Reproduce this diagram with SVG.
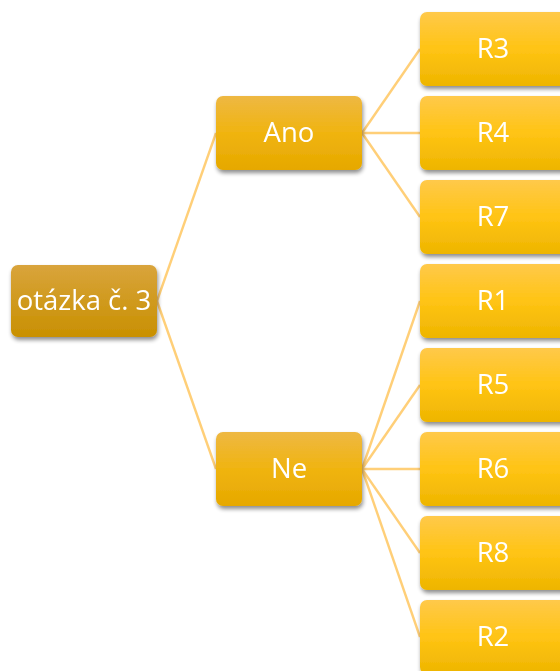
<svg xmlns="http://www.w3.org/2000/svg" width="560" height="671" viewBox="0 0 560 671">
<defs>
<linearGradient id="gRoot" x1="0" y1="0" x2="0" y2="1">
<stop offset="0" stop-color="#D9A43C"/><stop offset="0.5" stop-color="#D09A1E"/><stop offset="1" stop-color="#C99000"/>
</linearGradient>
<linearGradient id="gMid" x1="0" y1="0" x2="0" y2="1">
<stop offset="0" stop-color="#EEB843"/><stop offset="0.5" stop-color="#F0B410"/><stop offset="1" stop-color="#E6A800"/>
</linearGradient>
<linearGradient id="gLeaf" x1="0" y1="0" x2="0" y2="1">
<stop offset="0" stop-color="#FFC94A"/><stop offset="0.5" stop-color="#FFC414"/><stop offset="1" stop-color="#EEB500"/>
</linearGradient>
<filter id="sh" x="-10%" y="-10%" width="125%" height="130%">
<feGaussianBlur in="SourceAlpha" stdDeviation="2"/>
<feOffset dx="1" dy="3" result="b"/>
<feComponentTransfer><feFuncA type="linear" slope="0.45"/></feComponentTransfer>
<feMerge><feMergeNode/><feMergeNode in="SourceGraphic"/></feMerge>
</filter>
</defs>
<style>
.c{stroke:#FFCF78;stroke-width:2.4;fill:none}
.n{filter:url(#sh)}
.t{font-family:"Open Sans","Noto Sans",sans-serif;font-size:27.5px;fill:#FFFFFF;text-anchor:middle}
</style>
<g id="connectors">
<line class="c" x1="157" y1="301" x2="216" y2="133"/>
<line class="c" x1="157" y1="301" x2="216" y2="469"/>
<line class="c" x1="362" y1="133" x2="420" y2="49"/>
<line class="c" x1="362" y1="133" x2="420" y2="133"/>
<line class="c" x1="362" y1="133" x2="420" y2="217"/>
<line class="c" x1="362" y1="469" x2="420" y2="301"/>
<line class="c" x1="362" y1="469" x2="420" y2="385"/>
<line class="c" x1="362" y1="469" x2="420" y2="469"/>
<line class="c" x1="362" y1="469" x2="420" y2="553"/>
<line class="c" x1="362" y1="469" x2="420" y2="637"/>
</g>
<g id="root" class="n"><rect x="11" y="265" width="146" height="72" rx="7" fill="url(#gRoot)"/><text class="t" x="84" y="310">otázka č. 3</text></g>
<g id="ano" class="n"><rect x="216" y="96" width="146" height="74" rx="7" fill="url(#gMid)"/><text class="t" x="289" y="142">Ano</text></g>
<g id="ne" class="n"><rect x="216" y="432" width="146" height="74" rx="7" fill="url(#gMid)"/><text class="t" x="289" y="478">Ne</text></g>
<g id="r3" class="n"><rect x="420" y="12" width="150" height="74" rx="7" fill="url(#gLeaf)"/><text class="t" x="493" y="58">R3</text></g>
<g id="r4" class="n"><rect x="420" y="96" width="150" height="74" rx="7" fill="url(#gLeaf)"/><text class="t" x="493" y="142">R4</text></g>
<g id="r7" class="n"><rect x="420" y="180" width="150" height="74" rx="7" fill="url(#gLeaf)"/><text class="t" x="493" y="226">R7</text></g>
<g id="r1" class="n"><rect x="420" y="264" width="150" height="74" rx="7" fill="url(#gLeaf)"/><text class="t" x="493" y="310">R1</text></g>
<g id="r5" class="n"><rect x="420" y="348" width="150" height="74" rx="7" fill="url(#gLeaf)"/><text class="t" x="493" y="394">R5</text></g>
<g id="r6" class="n"><rect x="420" y="432" width="150" height="74" rx="7" fill="url(#gLeaf)"/><text class="t" x="493" y="478">R6</text></g>
<g id="r8" class="n"><rect x="420" y="516" width="150" height="74" rx="7" fill="url(#gLeaf)"/><text class="t" x="493" y="562">R8</text></g>
<g id="r2" class="n"><rect x="420" y="600" width="150" height="74" rx="7" fill="url(#gLeaf)"/><text class="t" x="493" y="646">R2</text></g>
</svg>
